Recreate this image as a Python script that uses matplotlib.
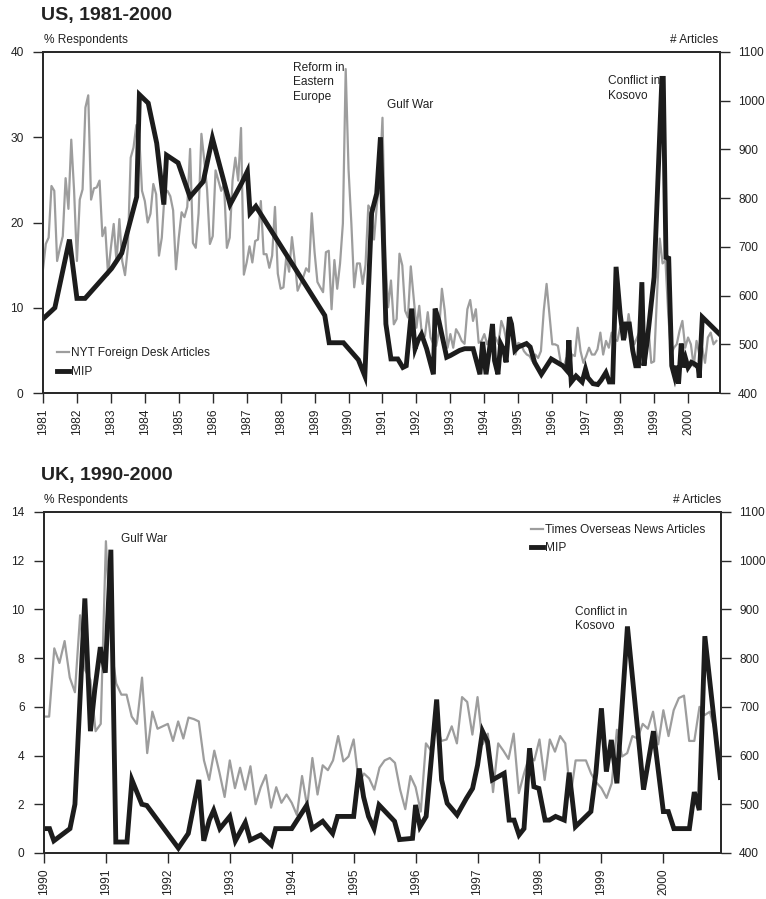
import matplotlib.pyplot as plt
import numpy as np

plt.rcParams['font.family'] = ['Liberation Sans', 'DejaVu Sans']

GRAY = '#9d9d9d'
BLACK = '#1c1c1c'
TEXT = '#222222'
FS = 8.6

# ---------------- US, 1981-2000 ----------------
# NYT foreign desk articles, monthly from Jan 1981
us_nyt_start = 1981
us_nyt_articles = [
    654, 706, 719, 825, 815, 671, 698, 722, 841, 778, 920, 815,   # 1981
    671, 797, 818, 986, 1011, 797, 820, 822, 836, 722, 740, 643,  # 1982
    698, 747, 668, 757, 671, 642, 698, 883, 904, 950, 929, 815,   # 1983
    794, 750, 768, 829, 808, 682, 719, 811, 815, 804, 775, 654,   # 1984
    719, 771, 761, 782, 901, 708, 698, 768, 932, 878, 818, 706,   # 1985
    722, 857, 836, 815, 829, 698, 719, 836, 883, 836, 944, 643,   # 1986
    668, 701, 668, 712, 715, 794, 685, 685, 657, 682, 782, 645,   # 1987
    614, 617, 680, 649, 720, 670, 610, 624, 638, 656, 649, 769,   # 1988
    689, 628, 617, 607, 689, 692, 572, 673, 614, 666, 748, 1065,  # 1989
    859, 748, 617, 666, 666, 624, 663, 785, 776, 715, 785, 838,   # 1990
    965, 680,
    576, 631, 541, 552, 686, 662, 569, 555, 660, 597, 534, 579, 514, 517,
    566, 514, 500, 497, 528, 614, 569, 493, 521, 493, 531, 521, 507, 501,
    572, 591, 548, 572, 503, 507, 521, 500, 514, 500, 514, 500, 548, 531,
    500, 524, 514, 479, 503, 500, 486, 479, 476, 465, 479, 472, 486, 569,
    624, 562, 500, 500, 497, 462, 452, 472, 452, 479, 476, 534, 486, 462,
    476, 493, 479, 479, 490, 524, 479, 507, 493, 524, 510, 507, 534, 521,
    514, 562, 521, 500, 514, 528, 493, 500, 534, 462, 465, 597, 717, 666,
    672, 562, 479, 493, 500, 528, 548, 493, 514, 500, 455, 507, 479, 493,
    462, 514, 524, 500, 507,
]

# MIP (% respondents), irregular survey dates
us_mip_year = [
    1981.0, 1981.35, 1981.78, 1982.0, 1982.24, 1983.02, 1983.32, 1983.76,
    1983.84, 1984.1, 1984.35, 1984.56, 1984.64, 1984.98, 1985.33, 1985.72,
    1985.99, 1986.51, 1986.85, 1987.02, 1987.1, 1987.27, 1989.3, 1989.43,
    1989.85, 1990.29, 1990.48, 1990.68, 1990.83, 1990.94,
    1991.1, 1991.25, 1991.45, 1991.6, 1991.7, 1991.86, 1991.96, 1992.05,
    1992.15, 1992.3, 1992.5, 1992.55, 1992.66, 1992.89, 1993.0, 1993.27,
    1993.42, 1993.67, 1993.87, 1993.95, 1994.05, 1994.16, 1994.24, 1994.3,
    1994.4, 1994.48, 1994.58, 1994.64, 1994.74, 1994.8, 1994.9, 1995.0,
    1995.24, 1995.35, 1995.48, 1995.68, 1995.97, 1996.31, 1996.44, 1996.49,
    1996.56, 1996.7, 1996.88, 1996.98, 1997.05, 1997.2, 1997.34, 1997.44,
    1997.58, 1997.68, 1997.78, 1997.88, 1998.0, 1998.1, 1998.17, 1998.27,
    1998.37, 1998.46, 1998.54, 1998.64, 1998.7, 1998.8, 1999.0, 1999.23,
    1999.27, 1999.35, 1999.43, 1999.52, 1999.6, 1999.65, 1999.72, 1999.8,
    1999.87, 1999.93, 2000.0, 2000.1, 2000.2, 2000.3, 2000.33, 2000.42,
    2000.93,
]
us_mip_pct = [
    8.7, 10.0, 18.0, 11.1, 11.1, 14.6, 16.4, 23.0,
    35.0, 34.0, 29.3, 22.1, 27.9, 27.0, 23.0, 24.8,
    29.9, 22.1, 24.6, 26.0, 21.1, 21.9, 9.1, 5.9,
    5.9, 3.9, 2.0, 21.1, 23.4, 30.0,
    8.1, 4.0, 4.0, 3.0, 3.2, 9.9, 5.2, 6.2,
    6.9, 5.2, 2.2, 9.9, 8.5, 4.2, 4.4, 5.0,
    5.2, 5.2, 2.2, 6.0, 2.2, 5.4, 8.1, 3.8,
    2.2, 5.8, 5.0, 3.6, 8.9, 8.1, 5.0, 5.4,
    5.8, 5.4, 3.6, 2.2, 4.0, 3.2, 2.6, 6.2,
    1.3, 2.0, 1.3, 2.8, 1.8, 1.1, 1.0, 1.5,
    2.4, 1.3, 1.3, 14.8, 9.3, 6.2, 8.1, 8.1,
    5.0, 3.2, 3.2, 13.0, 3.2, 6.2, 13.6, 36.9,
    36.9, 15.9, 15.8, 3.2, 2.0, 3.2, 1.1, 5.8,
    3.0, 4.0, 3.0, 3.6, 3.4, 3.0, 1.8, 8.9,
    6.9,
]

# ---------------- UK, 1990-2000 ----------------
uk_times_start = 1990
uk_times_articles = [
    680, 680, 820, 790, 835, 760, 730, 888, 775, 755, 650, 665,   # 1990
    1040, 825, 748, 725, 725, 680, 665, 760, 605, 690, 655, 660,  # 1991
    665, 630, 670, 635, 678, 675, 670, 590, 550, 610, 565, 515,   # 1992
    590, 533, 575, 530, 578, 500, 535, 560, 493, 535, 503, 520,   # 1993
    503, 478, 558, 495, 595, 520, 580, 570, 590, 640, 588, 598,   # 1994
    633, 543, 563, 553, 530, 575, 590, 595, 585, 530, 490, 558,   # 1995
    535, 485, 625, 610, 663, 630, 633, 660, 625, 720, 710, 643,   # 1996
    720, 623, 645, 525, 625, 610, 593, 645, 523, 563, 598, 590,   # 1997
    633, 550, 633, 608, 640, 625, 515, 590, 590, 590, 563, 545,   # 1998
    533, 513, 543, 653, 598, 605, 640, 635, 665, 655, 690, 623,   # 1999
    693, 640, 693, 718, 723, 630, 630, 700, 683, 690, 650, 598,   # 2000
]

uk_mip_year = [
    1990.0, 1990.09, 1990.16, 1990.42, 1990.5, 1990.66, 1990.75, 1990.82, 1990.91, 1990.99,
    1991.08, 1991.16, 1991.34, 1991.42, 1991.58, 1991.66,
    1992.17, 1992.33, 1992.5, 1992.58, 1992.67, 1992.74, 1992.84,
    1993.0, 1993.09, 1993.25, 1993.33, 1993.5, 1993.67, 1993.74,
    1994.0, 1994.24, 1994.33, 1994.5, 1994.66, 1994.74,
    1995.0, 1995.09, 1995.16, 1995.24, 1995.33, 1995.41, 1995.66, 1995.74, 1995.95,
    1996.0, 1996.07, 1996.17, 1996.34, 1996.42, 1996.51, 1996.67, 1996.82, 1996.92,
    1997.0, 1997.08, 1997.16, 1997.24, 1997.43, 1997.51, 1997.59, 1997.67, 1997.75,
    1997.84, 1997.91, 1997.99,
    1998.09, 1998.16, 1998.26, 1998.4, 1998.48, 1998.58, 1998.83, 1998.91,
    1999.0, 1999.08, 1999.16, 1999.25, 1999.42, 1999.68, 1999.84,
    2000.0, 2000.08, 2000.17, 2000.42, 2000.5, 2000.58, 2000.67, 2000.92,
]
uk_mip_pct = [
    1.0, 1.0, 0.5, 1.0, 2.0, 10.45, 5.0, 6.7, 8.45, 7.4,
    12.45, 0.45, 0.45, 3.0, 2.0, 1.95,
    0.2, 0.8, 3.0, 0.5, 1.35, 1.75, 1.0,
    1.5, 0.5, 1.25, 0.53, 0.74, 0.33, 1.0,
    1.0, 1.95, 1.0, 1.3, 0.8, 1.5,
    1.5, 3.47, 2.3, 1.5, 1.0, 1.97, 1.3, 0.55, 0.6,
    1.97, 1.08, 1.5, 6.3, 3.0, 2.04, 1.56, 2.24, 2.65,
    3.6, 5.0, 4.57, 3.0, 3.27, 1.35, 1.35, 0.74, 1.0,
    4.3, 2.72, 2.65,
    1.35, 1.35, 1.5, 1.35, 3.3, 1.08, 1.7, 3.27,
    5.94, 3.34, 4.64, 2.86, 9.3, 2.6, 5.0,
    1.7, 1.7, 1.0, 1.0, 2.5, 1.76, 8.9, 3.1,
]


def style_axis(ax):
    for sp in ax.spines.values():
        sp.set_linewidth(1.4)
        sp.set_color('#2a2a2a')
    ax.tick_params(direction='out', length=7, width=1.0, colors='#2a2a2a',
                   labelcolor=TEXT, labelsize=FS)


def draw_panel(rect, first_year, last_year, xmax, months_start, articles,
               mip_x, mip_y, ymax, ystep):
    ax = fig.add_axes(rect)
    axr = ax.twinx()
    # MIP line on top of the article counts
    ax.set_zorder(axr.get_zorder() + 1)
    ax.patch.set_visible(False)

    gx = months_start + np.arange(len(articles)) / 12.0
    g_line, = axr.plot(gx, articles, color=GRAY, lw=1.6, solid_joinstyle='round')
    m_line, = ax.plot(mip_x, mip_y, color=BLACK, lw=3.5, solid_joinstyle='miter')

    ax.set_xlim(first_year, xmax)
    ax.set_ylim(0, ymax)
    axr.set_ylim(400, 1100)
    ax.set_xticks(range(first_year, last_year + 1))
    ax.set_xticklabels([str(y) for y in range(first_year, last_year + 1)], rotation=90)
    ax.set_yticks(np.arange(0, ymax + 1, ystep))
    axr.set_yticks(range(400, 1101, 100))

    style_axis(ax)
    style_axis(axr)
    ax.tick_params(axis='y', pad=7)
    ax.tick_params(axis='x', pad=4)
    axr.tick_params(axis='y', pad=6)
    return ax, g_line, m_line


fig = plt.figure(figsize=(7.66, 8.99), dpi=100)

# US panel
ax1, g1, m1 = draw_panel([0.0561, 0.5628, 0.8838, 0.3794], 1981, 2000, 2000.94,
                         us_nyt_start, us_nyt_articles, us_mip_year, us_mip_pct,
                         40, 10)
ax1.legend([g1, m1], ['NYT Foreign Desk Articles', 'MIP'], loc='lower left',
           bbox_to_anchor=(0.021, 0.045), frameon=False, fontsize=FS,
           handlelength=1.0, handletextpad=0.15, labelspacing=0.55,
           borderpad=0, borderaxespad=0, labelcolor=TEXT)
ax1.text(1988.35, 38.85, 'Reform in\nEastern\nEurope', fontsize=FS, color=TEXT,
         va='top', ha='left', linespacing=1.28)
ax1.text(1991.12, 34.5, 'Gulf War', fontsize=FS, color=TEXT, va='top', ha='left')
ax1.text(1997.63, 37.25, 'Conflict in\nKosovo', fontsize=FS, color=TEXT,
         va='top', ha='left', linespacing=1.28)

fig.text(0.054, 0.983, 'US, 1981-2000', fontsize=14, fontweight='bold',
         color=TEXT, va='center', ha='left')
fig.text(0.0574, 0.9555, '% Respondents', fontsize=FS, color=TEXT, va='center', ha='left')
fig.text(0.937, 0.9555, '# Articles', fontsize=FS, color=TEXT, va='center', ha='right')

# UK panel
ax2, g2, m2 = draw_panel([0.0574, 0.0512, 0.8838, 0.3793], 1990, 2000, 2000.93,
                         uk_times_start, uk_times_articles, uk_mip_year, uk_mip_pct,
                         14, 2)
ax2.legend([g2, m2], ['Times Overseas News Articles', 'MIP'], loc='upper left',
           bbox_to_anchor=(0.72, 0.965), frameon=False, fontsize=FS,
           handlelength=1.0, handletextpad=0.15, labelspacing=0.55,
           borderpad=0, borderaxespad=0, labelcolor=TEXT)
ax2.text(1991.25, 13.15, 'Gulf War', fontsize=FS, color=TEXT, va='top', ha='left')
ax2.text(1998.58, 10.15, 'Conflict in\nKosovo', fontsize=FS, color=TEXT,
         va='top', ha='left', linespacing=1.28)

fig.text(0.054, 0.4716, 'UK, 1990-2000', fontsize=14, fontweight='bold',
         color=TEXT, va='center', ha='left')
fig.text(0.0574, 0.4438, '% Respondents', fontsize=FS, color=TEXT, va='center', ha='left')
fig.text(0.941, 0.4438, '# Articles', fontsize=FS, color=TEXT, va='center', ha='right')

fig.savefig('out.png', dpi=100, facecolor='white')
